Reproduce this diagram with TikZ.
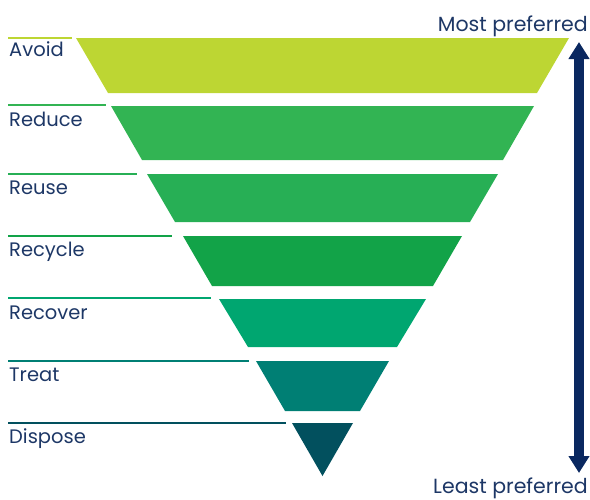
\documentclass[tikz,border=0pt]{standalone}
\usepackage{fontspec}
\setmainfont{Poppins}
\usetikzlibrary{arrows.meta}
\definecolor{cAvoid}{HTML}{BDD633}
\definecolor{cReduce}{HTML}{32B453}
\definecolor{cReuse}{HTML}{27AF55}
\definecolor{cRecycle}{HTML}{12A348}
\definecolor{cRecover}{HTML}{00A670}
\definecolor{cTreat}{HTML}{007F74}
\definecolor{cDispose}{HTML}{02505E}
\definecolor{navytext}{HTML}{1D3766}
\definecolor{navyarrow}{HTML}{0A2860}
\tikzset{
  lbl/.style={anchor=base west, inner sep=0pt, text=navytext, font=\fontsize{19.5}{23}\selectfont},
  endlbl/.style={inner sep=0pt, text=navytext, font=\fontsize{20.5}{24}\selectfont},
  guide/.style={line width=1.6pt},
  arrowbar/.style={navyarrow, line width=10pt,
     {Triangle[width=20pt,length=17pt]}-{Triangle[width=20pt,length=17pt]}}
}
\begin{document}
\begin{tikzpicture}[x=1pt,y=-1pt]
\useasboundingbox (0,0) rectangle (590,499);
% bands: top y, bottom y, top-left x, bottom-left x ; centre x = 322.5
\newcommand{\band}[5]{%
  \fill[#5] (#3,#1) -- (645-#3,#1) -- (645-#4,#2) -- (#4,#2) -- cycle;}
\band{38}{93}{76}{108}{cAvoid}
\band{106}{160}{111}{142}{cReduce}
\band{174}{222}{147}{175}{cReuse}
\band{236}{286}{183}{212}{cRecycle}
\band{299}{347}{219}{248}{cRecover}
\band{361}{411}{256}{285}{cTreat}
\fill[cDispose] (292,423) -- (353,423) -- (322.5,476) -- cycle;
% guide lines
\coordinate (gA1) at (8,38);  \coordinate (gA2) at (72,38);
\coordinate (gB1) at (8,105); \coordinate (gB2) at (106,105);
\coordinate (gC1) at (8,174); \coordinate (gC2) at (137,174);
\coordinate (gD1) at (8,236); \coordinate (gD2) at (172,236);
\coordinate (gE1) at (8,298); \coordinate (gE2) at (211,298);
\coordinate (gF1) at (8,361); \coordinate (gF2) at (249,361);
\coordinate (gG1) at (8,423); \coordinate (gG2) at (286,423);
\draw[guide,cAvoid] (gA1) -- (gA2);
\draw[guide,cReduce] (gB1) -- (gB2);
\draw[guide,cReuse] (gC1) -- (gC2);
\draw[guide,cRecycle] (gD1) -- (gD2);
\draw[guide,cRecover] (gE1) -- (gE2);
\draw[guide,cTreat] (gF1) -- (gF2);
\draw[guide,cDispose] (gG1) -- (gG2);
% labels
\node[lbl] (avoid) at (9,56) {Avoid};
\node[lbl] (reduce) at (9,126) {Reduce};
\node[lbl] (reuse) at (9,194) {Reuse};
\node[lbl] (recycle) at (9,256) {Recycle};
\node[lbl] (recover) at (9,319) {Recover};
\node[lbl] (treat) at (9,381) {Treat};
\node[lbl] (dispose) at (9,443) {Dispose};
\node[endlbl, anchor=base east] (most) at (588,31) {Most preferred};
\node[endlbl, anchor=base east] (least) at (588,493) {Least preferred};
% arrow
\coordinate (atop) at (579,42);
\coordinate (abot) at (579,473);
\draw[arrowbar] (atop) -- (abot);
\end{tikzpicture}
\end{document}
